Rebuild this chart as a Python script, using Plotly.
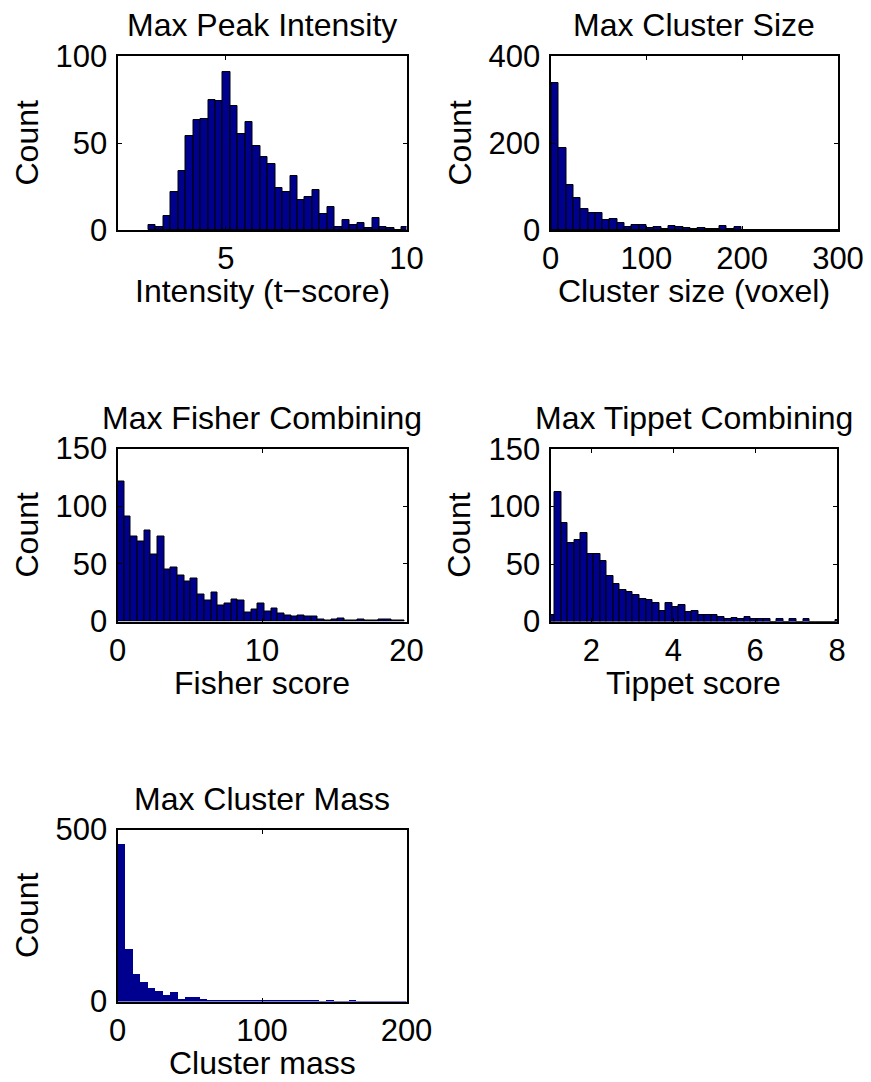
import plotly.graph_objects as go

W, H = 871, 1082
OFF = 8  # default page margin around the plot div

# ---------------- data ----------------
peak_bin_start = 2.854
peak_bin_width = 0.2064
peak_counts = [3, 2, 8, 22, 34, 54, 63, 64, 75, 74, 91, 71, 55, 62, 48, 42, 38, 24, 22, 31,
               17, 19, 23, 9, 13, 2, 6, 3, 4, 1, 7, 2, 1, 0, 2]

size_bin_start = 1.0
size_bin_width = 7.63
size_counts = [339, 188, 103, 74, 49, 40, 38, 23, 26, 17, 8, 12, 12, 5, 7, 3, 9, 6, 4, 3,
               4, 2, 2, 9, 2, 7, 0, 0, 0, 0, 0, 1, 0, 0, 0, 0, 0, 0, 0, 0]

fisher_bin_start = 0.0
fisher_bin_width = 0.4623
fisher_counts = [121, 91, 74, 69, 79, 58, 74, 45, 47, 40, 35, 37, 23, 18, 25, 14, 16, 19, 18, 8,
                 10, 16, 9, 11, 7, 5, 4, 5, 4, 4, 2, 1, 2, 3, 1, 1, 2, 1, 1, 2, 2, 1, 1]

tippet_bin_start = 0.937
tippet_bin_width = 0.1598
tippet_counts = [6, 113, 86, 68, 71, 77, 59, 59, 53, 40, 33, 27, 26, 23, 20, 19, 16, 9, 16, 13,
                 14, 8, 9, 6, 6, 6, 4, 2, 3, 2, 4, 2, 2, 2, 0, 2, 0, 2, 0, 2, 0, 0, 0, 0, 1]

mass_bin_start = 0.0
mass_bin_width = 5.15
mass_counts = [459, 155, 80, 58, 41, 31, 19, 29, 10, 16, 14, 8, 7, 6, 6, 5, 5, 5, 6, 4,
               4, 4, 5, 3, 3, 3, 3, 2, 3, 2, 2, 3, 2, 2, 2, 2, 2, 2, 2]

titles = ["Max Peak Intensity", "Max Cluster Size", "Max Fisher Combining",
          "Max Tippet Combining", "Max Cluster Mass"]
xlabels = ["Intensity (t\u2212score)", "Cluster size (voxel)", "Fisher score",
           "Tippet score", "Cluster mass"]
ylabel = "Count"

x_ranges = [[2, 10], [0, 300], [0, 20], [1, 8], [0, 200]]
y_ranges = [[0, 100], [0, 400], [0, 150], [0, 150], [0, 500]]
x_ticks = [[5, 10], [0, 100, 200, 300], [0, 10, 20], [2, 4, 6, 8], [0, 100, 200]]
y_ticks = [[0, 50, 100], [0, 200, 400], [0, 50, 100, 150], [0, 50, 100, 150], [0, 500]]

# ---------------- layout (pixel boxes in window coordinates) ----------------
boxes = [  # left, right, top, bottom
    (117.5, 406.5, 56, 230),
    (550.5, 838, 56, 230),
    (117.5, 406.5, 448.5, 621.5),
    (550.5, 837, 449, 621.5),
    (117.5, 406.5, 829.5, 1001.5),
]

FONT = "Liberation Sans, Arial, sans-serif"
FS_TEXT = 32
FS_TICK = 31
BAR = "#00008F"

FW, FH = W - OFF, H - OFF


def px_x(p):
    return (p - OFF) / FW


def px_y(p):
    return 1 - (p - OFF) / FH


fig = go.Figure()
series = [
    (peak_bin_start, peak_bin_width, peak_counts, True),
    (size_bin_start, size_bin_width, size_counts, True),
    (fisher_bin_start, fisher_bin_width, fisher_counts, True),
    (tippet_bin_start, tippet_bin_width, tippet_counts, True),
    (mass_bin_start, mass_bin_width, mass_counts, False),
]

annotations = []
for i, (start, width, counts, edge) in enumerate(series):
    ax = "" if i == 0 else str(i + 1)
    centers = [start + width * (k + 0.5) for k in range(len(counts))]
    fig.add_trace(go.Bar(
        x=centers, y=counts, width=width,
        marker=dict(color=BAR,
                    line=dict(color="black" if edge else BAR, width=1 if edge else 0)),
        xaxis="x" + ax, yaxis="y" + ax, showlegend=False,
    ))
    l, r, t, b = boxes[i]
    axis_common = dict(
        showline=True, linecolor="black", linewidth=2, mirror="ticks",
        ticks="inside", ticklen=4, tickcolor="black", tickwidth=1,
        showgrid=False, zeroline=False, automargin=False,
        tickfont=dict(family=FONT, size=FS_TICK, color="black"),
        fixedrange=True,
    )
    fig.update_layout(**{
        "xaxis" + ax: dict(domain=[px_x(l), px_x(r)], range=x_ranges[i],
                           tickvals=x_ticks[i], anchor="y" + ax,
                           ticklabelstandoff=0, **axis_common),
        "yaxis" + ax: dict(domain=[px_y(b), px_y(t)], range=y_ranges[i],
                           tickvals=y_ticks[i], anchor="x" + ax,
                           ticklabelstandoff=2, **axis_common),
    })
    cx = (l + r) / 2
    cy = (t + b) / 2
    annotations.append(dict(text=titles[i], x=px_x(cx), y=px_y(t - 31),
                            xref="paper", yref="paper", showarrow=False,
                            xanchor="center", yanchor="middle",
                            font=dict(family=FONT, size=FS_TEXT, color="black")))
    annotations.append(dict(text=xlabels[i], x=px_x(cx), y=px_y(b + 61),
                            xref="paper", yref="paper", showarrow=False,
                            xanchor="center", yanchor="middle",
                            font=dict(family=FONT, size=FS_TEXT, color="black")))
    annotations.append(dict(text=ylabel, x=px_x(l - 91), y=px_y(cy),
                            xref="paper", yref="paper", showarrow=False,
                            xanchor="center", yanchor="middle", textangle=-90,
                            font=dict(family=FONT, size=FS_TEXT, color="black")))

fig.update_layout(
    template="none",
    width=FW, height=FH,
    margin=dict(l=0, r=0, t=0, b=0, autoexpand=False),
    paper_bgcolor="white", plot_bgcolor="white",
    bargap=0, annotations=annotations,
    showlegend=False,
)

fig.write_html("out.html")
